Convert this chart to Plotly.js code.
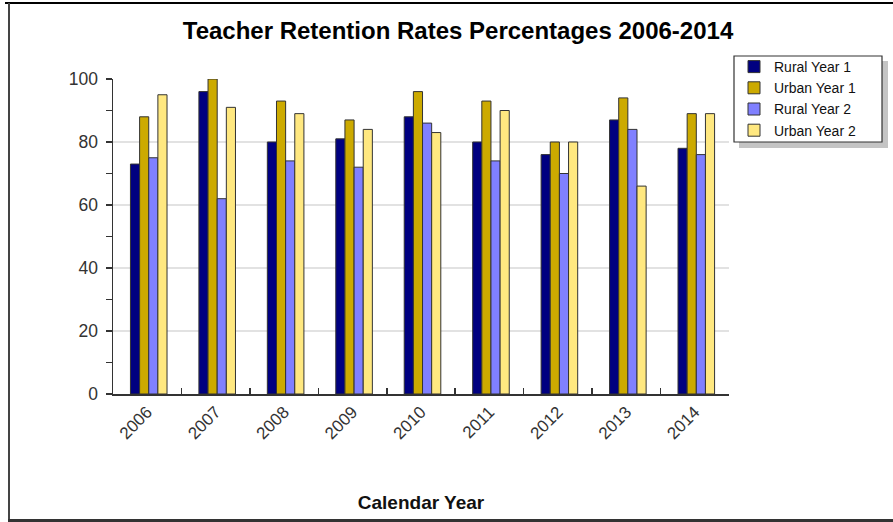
<!DOCTYPE html>
<html>
<head>
<meta charset="utf-8">
<script src="https://cdn.plot.ly/plotly-3.0.1.min.js"></script>
<style>
  html, body { margin: 0; padding: 0; background: #fff; }
  #wrap { position: relative; width: 893px; height: 522px; overflow: hidden; }
  #chart { position: absolute; left: 0; top: 0; width: 893px; height: 522px; }
  .edge { position: absolute; pointer-events: none; }
</style>
</head>
<body>
<div id="wrap">
  <div id="chart"></div>
  <div class="edge" style="left:5px; top:2px; width:888px; height:2px; background:#000;"></div>
  <div class="edge" style="left:8px; top:3px; width:2px; height:517px; background:#444;"></div>
  <div class="edge" style="left:8px; top:519px; width:885px; height:3px; background:#333;"></div>
</div>
<script>
const years = ["2006", "2007", "2008", "2009", "2010", "2011", "2012", "2013", "2014"];
const seriesNames = ["Rural Year 1", "Urban Year 1", "Rural Year 2", "Urban Year 2"];
const ruralYear1 = [73, 96, 80, 81, 88, 80, 76, 87, 78];
const urbanYear1 = [88, 100, 93, 87, 96, 93, 80, 94, 89];
const ruralYear2 = [75, 62, 74, 72, 86, 74, 70, 84, 76];
const urbanYear2 = [95, 91, 89, 84, 83, 90, 80, 66, 89];
const seriesColors = ["#000080", "#CCAA00", "#8080FF", "#FFE880"];

// bar geometry (style, in category units)
const barWidth = 0.1336;
const groupStart = -0.245;

const seriesValues = [ruralYear1, urbanYear1, ruralYear2, urbanYear2];
const traces = seriesValues.map((vals, i) => ({
  type: "bar",
  name: seriesNames[i],
  x: years,
  y: vals,
  width: barWidth,
  offset: groupStart + i * barWidth,
  marker: { color: seriesColors[i], line: { color: "#333333", width: 1 } },
  hoverinfo: "x+y+name"
}));

const L = 113, R = 729, T = 79, B = 394;
const pw = R - L, ph = B - T;
const px = v => (v - L) / pw;
const py = v => (B - v) / ph;

const layout = {
  width: 893,
  height: 522,
  margin: { l: L, r: 893 - R, t: T, b: 522 - B, pad: 0 },
  paper_bgcolor: "#ffffff",
  plot_bgcolor: "#ffffff",
  font: { family: "Liberation Sans, Arial, sans-serif", color: "#222222", size: 14 },
  title: {
    text: "<b>Teacher Retention Rates Percentages 2006-2014</b>",
    font: { family: "Liberation Sans, Arial, sans-serif", size: 24, color: "#000000" },
    x: 458 / 893, xanchor: "center", xref: "container",
    y: 1 - 31 / 522, yanchor: "middle", yref: "container"
  },
  barmode: "overlay",
  showlegend: true,
  legend: {
    x: px(734), xanchor: "left",
    y: py(51), yanchor: "top",
    bgcolor: "rgba(0,0,0,0)",
    borderwidth: 0,
    font: { family: "Liberation Sans, Arial, sans-serif", size: 14, color: "#111111" },
    tracegroupgap: 0,
    itemwidth: 30,
    traceorder: "normal"
  },
  xaxis: {
    type: "category",
    tickson: "boundaries",
    ticks: "inside",
    ticklen: 6,
    tickwidth: 1.5,
    tickcolor: "#333333",
    showline: true,
    linecolor: "#333333",
    linewidth: 1.5,
    showgrid: false,
    tickangle: -45,
    tickfont: { size: 17, color: "#333333" },
    title: {
      text: "<b>Calendar Year</b>",
      font: { family: "Liberation Sans, Arial, sans-serif", size: 19, color: "#111111" },
      standoff: 53
    },
    automargin: false
  },
  yaxis: {
    range: [0, 100],
    tickvals: [0, 20, 40, 60, 80, 100],
    ticks: "outside",
    ticklen: 6,
    tickwidth: 1.5,
    tickcolor: "#333333",
    ticklabelstandoff: 4,
    showline: true,
    linecolor: "#333333",
    linewidth: 1.5,
    showgrid: true,
    gridcolor: "#e2e2e2",
    gridwidth: 1.5,
    zeroline: false,
    tickfont: { size: 17.5, color: "#333333" },
    minor: { dtick: 10, ticks: "outside", ticklen: 6, tickwidth: 1.5, tickcolor: "#333333", showgrid: false },
    automargin: false
  },
  shapes: [
    {
      type: "rect", xref: "paper", yref: "paper", layer: "below",
      x0: px(739), x1: px(888), y0: py(148), y1: py(61),
      fillcolor: "#c4c4c4", line: { width: 0 }
    },
    {
      type: "rect", xref: "paper", yref: "paper", layer: "below",
      x0: px(734), x1: px(882), y0: py(142), y1: py(56),
      fillcolor: "#ffffff", line: { color: "#333333", width: 1.2 }
    }
  ]
};

Plotly.newPlot("chart", traces, layout, { displayModeBar: false, staticPlot: true });
</script>
</body>
</html>
